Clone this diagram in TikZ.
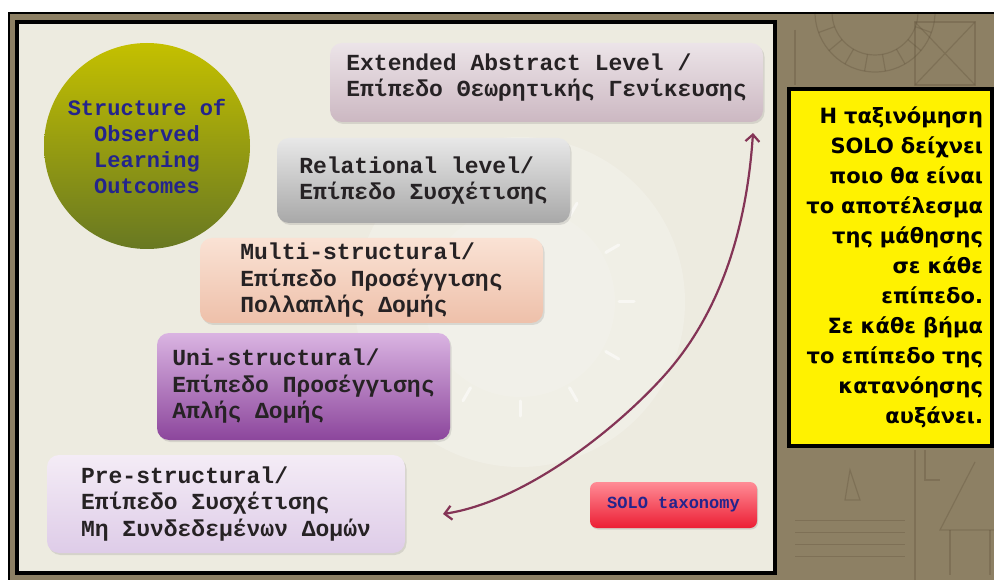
\documentclass[tikz,border=0pt]{standalone}
\usepackage{fontspec}
\setmonofont{Liberation Mono}
\newfontfamily\notefont{DejaVu Sans}
\usetikzlibrary{arrows.meta,shadows}

\definecolor{paper}{RGB}{237,235,224}
\definecolor{sketchbg}{RGB}{141,128,100}
\definecolor{sketchline}{RGB}{92,78,56}
\definecolor{inktext}{RGB}{38,34,36}
\definecolor{navy}{RGB}{36,36,140}
\definecolor{arrowcol}{RGB}{132,52,86}
\definecolor{extTop}{RGB}{236,228,232}
\definecolor{extBot}{RGB}{204,184,194}
\definecolor{relTop}{RGB}{232,232,232}
\definecolor{relBot}{RGB}{168,168,168}
\definecolor{mulTop}{RGB}{250,226,212}
\definecolor{mulBot}{RGB}{238,192,170}
\definecolor{uniTop}{RGB}{218,180,226}
\definecolor{uniBot}{RGB}{140,70,156}
\definecolor{preTop}{RGB}{244,236,246}
\definecolor{preBot}{RGB}{222,204,232}
\definecolor{orbTop}{RGB}{196,192,0}
\definecolor{orbBot}{RGB}{104,120,34}
\definecolor{btnTop}{RGB}{255,140,150}
\definecolor{btnBot}{RGB}{236,30,52}

\begin{document}
\begin{tikzpicture}[x=1pt,y=-1pt,
  levelbox/.style={rounded corners=12pt, align=left, inner sep=0pt,
    font=\ttfamily\bfseries\fontsize{23}{26.5}\selectfont, text=inktext,
    drop shadow={opacity=0.22, shadow xshift=1.5pt, shadow yshift=-2pt}},
  orb/.style={circle, inner sep=0pt, align=center, text=navy,
    font=\ttfamily\bfseries\fontsize{22}{26}\selectfont},
  tagbtn/.style={rounded corners=7pt, inner sep=0pt, text=navy,
    font=\ttfamily\bfseries\fontsize{17}{20}\selectfont,
    drop shadow={opacity=0.25, shadow xshift=1pt, shadow yshift=-1.5pt}},
  notebox/.style={draw=black, line width=3.5pt, fill=yellow, align=right,
    inner xsep=9pt, inner ysep=0pt, text=black,
    font=\notefont\bfseries\fontsize{21}{30}\selectfont},
  linkline/.style={draw=arrowcol, line width=2.2pt,
    arrows={Straight Barb[length=7pt,width=14pt]-Straight Barb[length=7pt,width=14pt]}},
  sketch/.style={draw=sketchline, opacity=0.3, line width=1.2pt},
  tick/.style={draw=white, opacity=0.55, line width=3pt, line cap=round}]

\path[use as bounding box, fill=white] (0,0) rectangle (994,580);

% textured backdrop
\fill[sketchbg] (8,12) rectangle (994,580);

% faint drawings on the backdrop
\begin{scope}
  \clip (8,12) rectangle (994,580);
  \draw[sketch] (815,12) arc[start angle=180, end angle=0, radius=60];
  \draw[sketch] (832,12) arc[start angle=180, end angle=0, radius=43];
  \foreach \a in {20,40,...,160} \draw[sketch] ([shift={(\a:43)}]875,12) -- ([shift={(\a:60)}]875,12);
  \draw[sketch] (915,22) rectangle (975,85);
  \draw[sketch] (915,22) -- (975,85) (975,22) -- (915,85);
  \draw[sketch] (795,30) -- (795,85);
  \draw[sketch] (915,450) -- (915,580) (925,450) -- (925,480) -- (940,480);
  \draw[sketch] (975,462) -- (940,530) -- (994,530);
  \draw[sketch] (950,530) -- (950,575) (990,530) -- (990,575);
  \draw[sketch] (850,470) -- (860,500) -- (845,500) -- cycle;
  \foreach \y in {520,532,544,556} \draw[sketch, line width=0.8pt] (795,\y) -- (905,\y);
\end{scope}
\draw[black, line width=2pt] (9,580) -- (9,13) -- (994,13);

% main panel
\draw[black, line width=3.5pt, fill=paper] (17,22) rectangle (775,573);

% dial watermark
\fill[white, opacity=0.2] (520,302) circle (165);
\fill[white, opacity=0.12] (520,302) circle (95);
\foreach \a in {0,30,...,330} \draw[tick] ([shift={(\a:99)}]520,302) -- ([shift={(\a:114)}]520,302);

% title disc
\node[orb, minimum size=206pt, top color=orbTop, bottom color=orbBot] (orb) at (147,146)
  {Structure of\\Observed\\Learning\\Outcomes};

% level boxes
\node[levelbox, minimum width=433pt, minimum height=79pt, text depth=15pt, top color=extTop, bottom color=extBot] (ext) at (546.5,82.5)
  {Extended Abstract Level /\\Επίπεδο Θεωρητικής Γενίκευσης};
\node[levelbox, minimum width=293pt, minimum height=85pt, top color=relTop, bottom color=relBot] (rel) at (423.5,180.5)
  {Relational level/\\Επίπεδο Συσχέτισης};
\node[levelbox, minimum width=343pt, minimum height=85pt, top color=mulTop, bottom color=mulBot] (mul) at (371.5,280.5)
  {Multi-structural/\\Επίπεδο Προσέγγισης\\Πολλαπλής Δομής};
\node[levelbox, minimum width=293pt, minimum height=107pt, top color=uniTop, bottom color=uniBot] (uni) at (303.5,386.5)
  {Uni-structural/\\Επίπεδο Προσέγγισης\\Απλής Δομής};
\node[levelbox, minimum width=358pt, minimum height=98pt, top color=preTop, bottom color=preBot] (pre) at (226,504)
  {Pre-structural/\\Επίπεδο Συσχέτισης\\Μη Συνδεδεμένων Δομών};

% tag button
\node[tagbtn, minimum width=167pt, minimum height=46pt, top color=btnTop, bottom color=btnBot] (tag) at (673.5,505)
  {SOLO taxonomy};

% progression arrow
\coordinate (lowtip) at (443,514);
\coordinate (toptip) at (753,133);
\draw[linkline] (lowtip) .. controls (523,502) and (613,432) .. (663,377)
  .. controls (723,311) and (747,223) .. (toptip);

% side note
\node[notebox, text width=185pt, minimum height=357pt] (note) at (890.5,267.5)
  {Η ταξινόμηση\\SOLO δείχνει\\ποιο θα είναι\\το αποτέλεσμα\\της μάθησης\\σε κάθε\\επίπεδο.\\Σε κάθε βήμα\\το επίπεδο της\\κατανόησης\\αυξάνει.};
\end{tikzpicture}
\end{document}
